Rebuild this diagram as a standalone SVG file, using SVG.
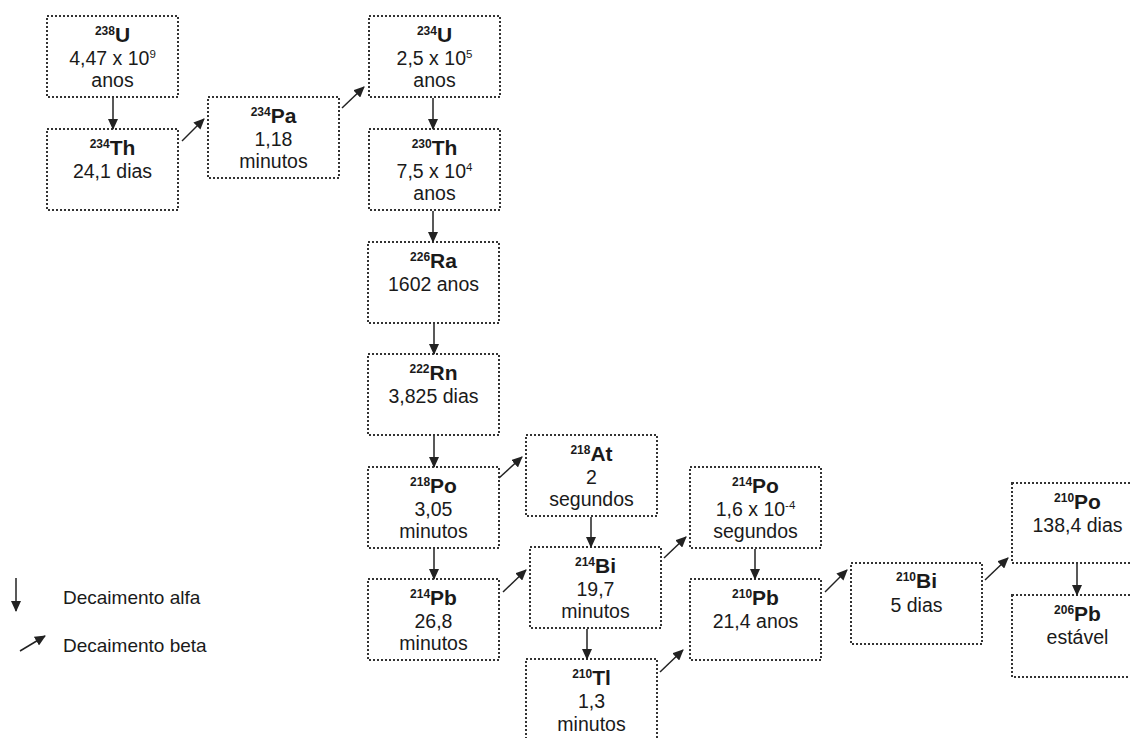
<svg xmlns="http://www.w3.org/2000/svg" width="1130" height="738" viewBox="0 0 1130 738">
<style>
.box{fill:#fff;stroke:#333;stroke-width:2;stroke-dasharray:2 2}
text{font-family:"Liberation Sans",Arial,sans-serif;fill:#1a1a1a}
.t{font-size:19.5px;text-anchor:middle}
.lab{font-size:21px;font-weight:bold;text-anchor:middle}
.ls{font-size:12px;font-weight:bold}
.s{font-size:11.5px}
.leg{font-size:19px}
.c line{stroke:#222;stroke-width:1.5}
</style>
<defs>
<marker id="ah" markerUnits="userSpaceOnUse" markerWidth="12" markerHeight="10" refX="10" refY="5" orient="auto">
<path d="M0,0 L11,5 L0,10 Z" fill="#222"/>
</marker>
</defs>
<rect width="1130" height="738" fill="#fff"/>

<g id="U238"><rect class="box" x="47" y="16" width="131" height="81"/>
<text class="lab" x="112.5" y="42"><tspan class="ls" dy="-7">238</tspan><tspan dy="7">U</tspan></text>
<text class="t" x="112.5" y="65">4,47 x 10<tspan class="s" dy="-7">9</tspan></text>
<text class="t" x="112.5" y="87">anos</text></g>

<g id="Th234"><rect class="box" x="47" y="129" width="131" height="81"/>
<text class="lab" x="112.5" y="155"><tspan class="ls" dy="-7">234</tspan><tspan dy="7">Th</tspan></text>
<text class="t" x="112.5" y="178">24,1 dias</text></g>

<g id="Pa234"><rect class="box" x="208" y="97" width="131" height="81"/>
<text class="lab" x="273.5" y="123"><tspan class="ls" dy="-7">234</tspan><tspan dy="7">Pa</tspan></text>
<text class="t" x="273.5" y="146">1,18</text>
<text class="t" x="273.5" y="168">minutos</text></g>

<g id="U234"><rect class="box" x="369" y="16" width="131" height="81"/>
<text class="lab" x="434.5" y="42"><tspan class="ls" dy="-7">234</tspan><tspan dy="7">U</tspan></text>
<text class="t" x="434.5" y="65">2,5 x 10<tspan class="s" dy="-7">5</tspan></text>
<text class="t" x="434.5" y="87">anos</text></g>

<g id="Th230"><rect class="box" x="369" y="129" width="131" height="81"/>
<text class="lab" x="434.5" y="155"><tspan class="ls" dy="-7">230</tspan><tspan dy="7">Th</tspan></text>
<text class="t" x="434.5" y="178">7,5 x 10<tspan class="s" dy="-7">4</tspan></text>
<text class="t" x="434.5" y="200">anos</text></g>

<g id="Ra226"><rect class="box" x="368" y="242" width="131" height="81"/>
<text class="lab" x="433.5" y="268"><tspan class="ls" dy="-7">226</tspan><tspan dy="7">Ra</tspan></text>
<text class="t" x="433.5" y="291">1602 anos</text></g>

<g id="Rn222"><rect class="box" x="368" y="354" width="131" height="81"/>
<text class="lab" x="433.5" y="380"><tspan class="ls" dy="-7">222</tspan><tspan dy="7">Rn</tspan></text>
<text class="t" x="433.5" y="403">3,825 dias</text></g>

<g id="Po218"><rect class="box" x="368" y="467" width="131" height="81"/>
<text class="lab" x="433.5" y="493"><tspan class="ls" dy="-7">218</tspan><tspan dy="7">Po</tspan></text>
<text class="t" x="433.5" y="516">3,05</text>
<text class="t" x="433.5" y="538">minutos</text></g>

<g id="Pb214"><rect class="box" x="368" y="579" width="131" height="81"/>
<text class="lab" x="433.5" y="605"><tspan class="ls" dy="-7">214</tspan><tspan dy="7">Pb</tspan></text>
<text class="t" x="433.5" y="628">26,8</text>
<text class="t" x="433.5" y="650">minutos</text></g>

<g id="At218"><rect class="box" x="526" y="435" width="131" height="81"/>
<text class="lab" x="591.5" y="461"><tspan class="ls" dy="-7">218</tspan><tspan dy="7">At</tspan></text>
<text class="t" x="591.5" y="484">2</text>
<text class="t" x="591.5" y="506">segundos</text></g>

<g id="Bi214"><rect class="box" x="530" y="547" width="131" height="81"/>
<text class="lab" x="595.5" y="573"><tspan class="ls" dy="-7">214</tspan><tspan dy="7">Bi</tspan></text>
<text class="t" x="595.5" y="596">19,7</text>
<text class="t" x="595.5" y="618">minutos</text></g>

<g id="Tl210"><rect class="box" x="526" y="659" width="131" height="81"/>
<text class="lab" x="591.5" y="685"><tspan class="ls" dy="-7">210</tspan><tspan dy="7">Tl</tspan></text>
<text class="t" x="591.5" y="708">1,3</text>
<text class="t" x="591.5" y="731">minutos</text></g>

<g id="Po214"><rect class="box" x="690" y="467" width="131" height="81"/>
<text class="lab" x="755.5" y="493"><tspan class="ls" dy="-7">214</tspan><tspan dy="7">Po</tspan></text>
<text class="t" x="755.5" y="516">1,6 x 10<tspan class="s" dy="-7">-4</tspan></text>
<text class="t" x="755.5" y="538">segundos</text></g>

<g id="Pb210"><rect class="box" x="690" y="579" width="131" height="81"/>
<text class="lab" x="755.5" y="605"><tspan class="ls" dy="-7">210</tspan><tspan dy="7">Pb</tspan></text>
<text class="t" x="755.5" y="628">21,4 anos</text></g>

<g id="Bi210"><rect class="box" x="851" y="563" width="131" height="81"/>
<text class="lab" x="916.5" y="588"><tspan class="ls" dy="-7">210</tspan><tspan dy="7">Bi</tspan></text>
<text class="t" x="916.5" y="612">5 dias</text></g>

<g id="Po210"><rect class="box" x="1012" y="483" width="131" height="80"/>
<text class="lab" x="1077.5" y="509"><tspan class="ls" dy="-7">210</tspan><tspan dy="7">Po</tspan></text>
<text class="t" x="1077.5" y="532">138,4 dias</text></g>

<g id="Pb206"><rect class="box" x="1012" y="595" width="131" height="82"/>
<text class="lab" x="1077.5" y="621"><tspan class="ls" dy="-7">206</tspan><tspan dy="7">Pb</tspan></text>
<text class="t" x="1077.5" y="644">estável</text></g>

<g id="connectors" class="c">
<line x1="113" y1="98" x2="113" y2="129" marker-end="url(#ah)"/>
<line x1="433" y1="98" x2="433" y2="129" marker-end="url(#ah)"/>
<line x1="433" y1="211" x2="433" y2="242" marker-end="url(#ah)"/>
<line x1="434" y1="324" x2="434" y2="354" marker-end="url(#ah)"/>
<line x1="434" y1="436" x2="434" y2="467" marker-end="url(#ah)"/>
<line x1="434" y1="549" x2="434" y2="579" marker-end="url(#ah)"/>
<line x1="591" y1="517" x2="591" y2="547" marker-end="url(#ah)"/>
<line x1="587" y1="629" x2="587" y2="659" marker-end="url(#ah)"/>
<line x1="755" y1="549" x2="755" y2="579" marker-end="url(#ah)"/>
<line x1="1077" y1="564" x2="1077" y2="595" marker-end="url(#ah)"/>
<line x1="182" y1="141" x2="204" y2="119" marker-end="url(#ah)"/>
<line x1="342" y1="108" x2="364" y2="87" marker-end="url(#ah)"/>
<line x1="499" y1="478" x2="522" y2="457" marker-end="url(#ah)"/>
<line x1="503" y1="592" x2="526" y2="570" marker-end="url(#ah)"/>
<line x1="664" y1="558" x2="686" y2="537" marker-end="url(#ah)"/>
<line x1="660" y1="672" x2="683" y2="650" marker-end="url(#ah)"/>
<line x1="825" y1="592" x2="847" y2="570" marker-end="url(#ah)"/>
<line x1="985" y1="580" x2="1008" y2="558" marker-end="url(#ah)"/>
<line x1="16" y1="578" x2="16" y2="611" marker-end="url(#ah)"/>
<line x1="20" y1="651" x2="45" y2="636" marker-end="url(#ah)"/>
</g>

<g id="legend">
<text class="leg" x="63" y="604">Decaimento alfa</text>
<text class="leg" x="63" y="652">Decaimento beta</text>
</g>
</svg>
